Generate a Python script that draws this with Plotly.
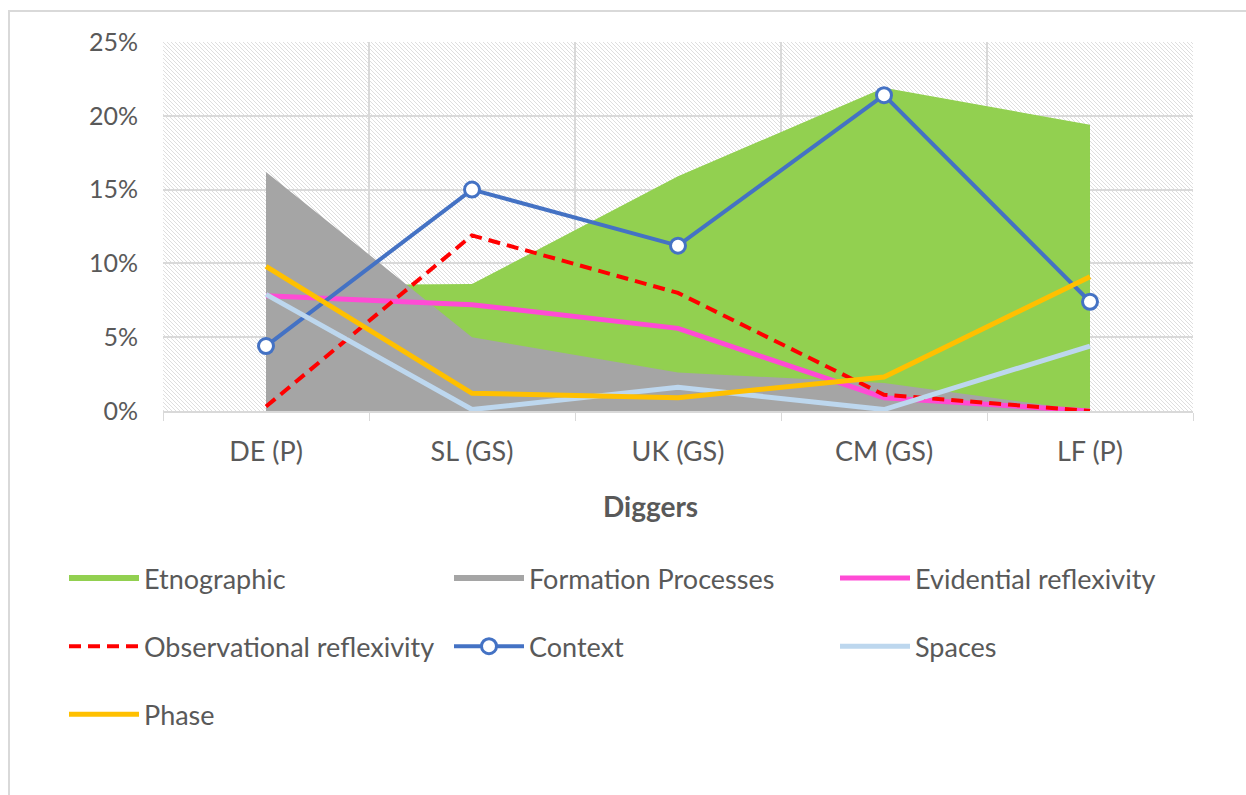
import base64
import plotly.graph_objects as go

# Share of each reflexivity category per digger
categories = ["DE (P)", "SL (GS)", "UK (GS)", "CM (GS)", "LF (P)"]
etnographic = [0.085, 0.086, 0.159, 0.219, 0.194]
formation_processes = [0.162, 0.050, 0.026, 0.019, 0.0]
evidential = [0.078, 0.072, 0.056, 0.009, 0.0]
observational = [0.003, 0.119, 0.080, 0.011, 0.0]
context = [0.044, 0.150, 0.112, 0.214, 0.074]
spaces = [0.079, 0.001, 0.016, 0.001, 0.044]
phase = [0.098, 0.012, 0.009, 0.023, 0.091]

FONT = "Lato"
TXT = "#595959"
GRID = "#d9d9d9"

fig = go.Figure()

# Area series (drawn first, behind the lines)
fig.add_trace(go.Scatter(x=categories, y=etnographic, name="Etnographic",
                         mode="none", fill="tozeroy", fillcolor="#92D050",
                         legend="legend", legendgroup="a"))
fig.add_trace(go.Scatter(x=categories, y=formation_processes, name="Formation Processes",
                         mode="none", fill="tozeroy", fillcolor="#A5A5A5",
                         legend="legend2", legendgroup="b"))

# Line series
fig.add_trace(go.Scatter(x=categories, y=evidential, name="Evidential reflexivity",
                         mode="lines", line=dict(color="#FF4BD5", width=5),
                         legend="legend3", legendgroup="c"))
fig.add_trace(go.Scatter(x=categories, y=observational, name="Observational reflexivity",
                         mode="lines", line=dict(color="#FF0000", width=4, dash="12px,7px"),
                         legend="legend", legendgroup="d"))
fig.add_trace(go.Scatter(x=categories, y=context, name="Context",
                         mode="lines+markers", line=dict(color="#4472C4", width=4),
                         marker=dict(symbol="circle", size=15, color="white",
                                     line=dict(color="#4472C4", width=3)),
                         legend="legend2", legendgroup="e"))
fig.add_trace(go.Scatter(x=categories, y=spaces, name="Spaces",
                         mode="lines", line=dict(color="#BDD7EE", width=5),
                         legend="legend3", legendgroup="f"))
fig.add_trace(go.Scatter(x=categories, y=phase, name="Phase",
                         mode="lines", line=dict(color="#FFC000", width=5),
                         legend="legend", legendgroup="g"))

# Fine diagonal hatching for the plot background
hatch_svg = (
    "<svg xmlns='http://www.w3.org/2000/svg' width='1030' height='369'>"
    "<defs><pattern id='h' width='4' height='4' patternUnits='userSpaceOnUse'>"
    "<path d='M-1,-1 L5,5 M3,-1 L5,1 M-1,3 L1,5' stroke='#dedede' stroke-width='1'/>"
    "</pattern></defs><rect width='100%' height='100%' fill='white'/>"
    "<rect width='100%' height='100%' fill='url(#h)'/></svg>"
)
hatch_uri = "data:image/svg+xml;base64," + base64.b64encode(hatch_svg.encode()).decode()

W, H = 1246, 795
L, R, T, B = 163, 53, 42, 384
pw, ph = W - L - R, H - T - B


def px(x):
    return (x - L) / pw


def py(y):
    return (H - B - y) / ph


legend_common = dict(orientation="v", xanchor="left", yanchor="top",
                     y=py(554), itemwidth=70, tracegroupgap=30,
                     font=dict(family=FONT, size=27, color=TXT),
                     bgcolor="rgba(0,0,0,0)", itemclick=False,
                     itemdoubleclick=False)

fig.update_layout(
    width=W, height=H,
    margin=dict(l=L, r=R, t=T, b=B),
    paper_bgcolor="white",
    plot_bgcolor="rgba(0,0,0,0)",
    font=dict(family=FONT, size=27, color=TXT),
    hovermode=False,
    showlegend=True,
    legend=dict(legend_common, x=px(64)),
    legend2=dict(legend_common, x=px(449)),
    legend3=dict(legend_common, x=px(835)),
    xaxis=dict(
        type="category", range=[-0.5, 4.5],
        tickson="boundaries", ticks="outside", ticklen=8, tickcolor=GRID,
        showgrid=True, gridcolor=GRID, gridwidth=1.5,
        showline=True, linecolor=GRID, linewidth=1.5,
        tickfont=dict(family=FONT, size=27, color=TXT),
        ticklabelstandoff=16,
        zeroline=False, fixedrange=True,
    ),
    yaxis=dict(
        range=[0, 0.25], dtick=0.05, tickformat=".0%",
        showgrid=True, gridcolor=GRID, gridwidth=1.5,
        zeroline=False, showline=False, ticks="",
        tickfont=dict(family=FONT, size=25, color=TXT),
        ticklabelstandoff=24, fixedrange=True,
    ),
    images=[dict(source=hatch_uri, xref="paper", yref="paper", x=0, y=1,
                 sizex=1, sizey=1, sizing="stretch", xanchor="left",
                 yanchor="top", layer="below")],
    annotations=[dict(text="<b>Diggers</b>", xref="paper", yref="paper",
                      x=px(650), y=py(506), xanchor="center", yanchor="middle",
                      showarrow=False,
                      font=dict(family=FONT, size=28, color=TXT))],
    shapes=[dict(type="rect", xref="paper", yref="paper",
                 x0=px(9), x1=px(1300), y0=py(11), y1=py(850),
                 line=dict(color=GRID, width=2), fillcolor="rgba(0,0,0,0)",
                 layer="below")],
)

fig.write_html("out.html")
